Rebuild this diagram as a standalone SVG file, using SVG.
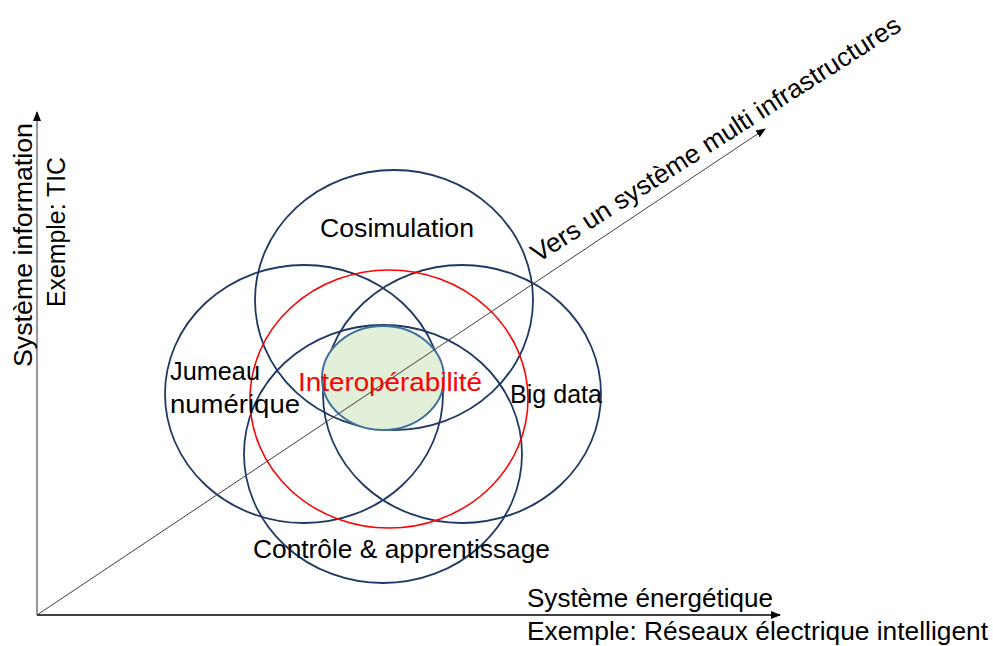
<svg xmlns="http://www.w3.org/2000/svg" width="993" height="646" viewBox="0 0 993 646">
<style>
.lbl{font-family:"Liberation Sans",Arial,sans-serif;font-size:26px;fill:#000}
.ring{fill:none;stroke:#1F3864;stroke-width:1.8}
.red{fill:none;stroke:#FF0000;stroke-width:1.6}
.axis{stroke:#000;stroke-width:1.3;fill:none}
</style>
<defs>
<marker id="ah" markerWidth="10" markerHeight="8" refX="9" refY="4" orient="auto" markerUnits="userSpaceOnUse">
<path d="M0,0 L10,4 L0,8 z" fill="#000"/>
</marker>
</defs>
<rect width="993" height="646" fill="#fff"/>
<g id="sets">
<g id="cosimulation"><ellipse class="ring" cx="394" cy="300" rx="139" ry="130"/></g>
<g id="jumeau"><ellipse class="ring" cx="304" cy="394" rx="139" ry="129"/></g>
<g id="bigdata"><ellipse class="ring" cx="462" cy="394" rx="139" ry="129"/></g>
<g id="controle"><ellipse class="ring" cx="383" cy="454" rx="139" ry="129"/></g>
<g id="interop-ring"><ellipse class="red" cx="389" cy="399" rx="139" ry="129"/></g>
<g id="core"><ellipse cx="383" cy="378" rx="61" ry="52" fill="#E2EFD9" stroke="#41719C" stroke-width="2"/></g>
</g>
<g id="connectors">
<line x1="37" y1="615" x2="37" y2="112" stroke="#7F7F7F" stroke-width="1.6" marker-end="url(#ah)"/>
<line x1="37" y1="615" x2="780" y2="615" class="axis" marker-end="url(#ah)"/>
<line x1="37" y1="615" x2="765" y2="129" stroke="#404040" stroke-width="1" marker-end="url(#ah)"/>
</g>
<g id="labels">
<text class="lbl" x="320" y="237" textLength="154" lengthAdjust="spacingAndGlyphs">Cosimulation</text>
<text class="lbl" x="170" y="380" textLength="90" lengthAdjust="spacingAndGlyphs">Jumeau</text>
<text class="lbl" x="170" y="413" textLength="130" lengthAdjust="spacingAndGlyphs">numérique</text>
<text class="lbl" x="298" y="391" textLength="184" lengthAdjust="spacingAndGlyphs" style="fill:#FF0000">Interopérabilité</text>
<text class="lbl" x="510" y="403" textLength="92" lengthAdjust="spacingAndGlyphs">Big data</text>
<text class="lbl" x="253" y="558" textLength="297" lengthAdjust="spacingAndGlyphs">Contrôle &amp; apprentissage</text>
<text class="lbl" x="527" y="607" textLength="246" lengthAdjust="spacingAndGlyphs">Système énergétique</text>
<text class="lbl" x="527" y="640" textLength="461" lengthAdjust="spacingAndGlyphs">Exemple: Réseaux électrique intelligent</text>
<text class="lbl" transform="translate(32,367) rotate(-90)" textLength="244" lengthAdjust="spacingAndGlyphs">Système information</text>
<text class="lbl" transform="translate(65,307) rotate(-90)" textLength="150" lengthAdjust="spacingAndGlyphs">Exemple: TIC</text>
<text class="lbl" transform="translate(538,263) rotate(-32.6)" textLength="433" lengthAdjust="spacingAndGlyphs">Vers un système multi infrastructures</text>
</g>
</svg>
